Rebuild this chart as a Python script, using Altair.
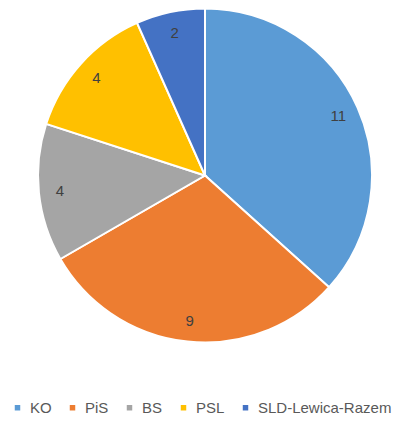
import altair as alt
import pandas as pd

parties = ["KO", "PiS", "BS", "PSL", "SLD-Lewica-Razem"]
seats = [11, 9, 4, 4, 2]
colors = ["#5B9BD5", "#ED7D31", "#A5A5A5", "#FFC000", "#4472C4"]

df = pd.DataFrame({"party": parties, "seats": seats, "order": list(range(len(parties)))})

base = alt.Chart(df).encode(
    theta=alt.Theta("seats:Q", stack=True),
    order=alt.Order("order:Q"),
)

pie = base.mark_arc(radius=167, stroke="white", strokeWidth=2).encode(
    color=alt.Color(
        "party:N",
        scale=alt.Scale(domain=parties, range=colors),
        sort=parties,
        legend=alt.Legend(
            title=None,
            orient="none",
            legendX=2,
            legendY=392,
            direction="horizontal",
            columns=5,
            symbolType="square",
            symbolSize=30,
            symbolStrokeWidth=0,
            labelFontSize=15,
            labelFont="Liberation Sans",
            labelColor="#595959",
            labelOffset=5,
            columnPadding=13,
        ),
    )
)

labels = base.mark_text(radius=146, fontSize=15, font="Liberation Sans", color="#404040").encode(
    text="seats:Q"
)

chart = (
    (pie + labels)
    .properties(
        width=394,
        height=335,
        autosize=alt.AutoSizeParams(type="none"),
        padding={"left": 0, "top": 0, "right": 0, "bottom": 72},
    )
    .configure_view(stroke=None)
)

chart.save("out.html", embed_options={"renderer": "svg", "actions": False})
